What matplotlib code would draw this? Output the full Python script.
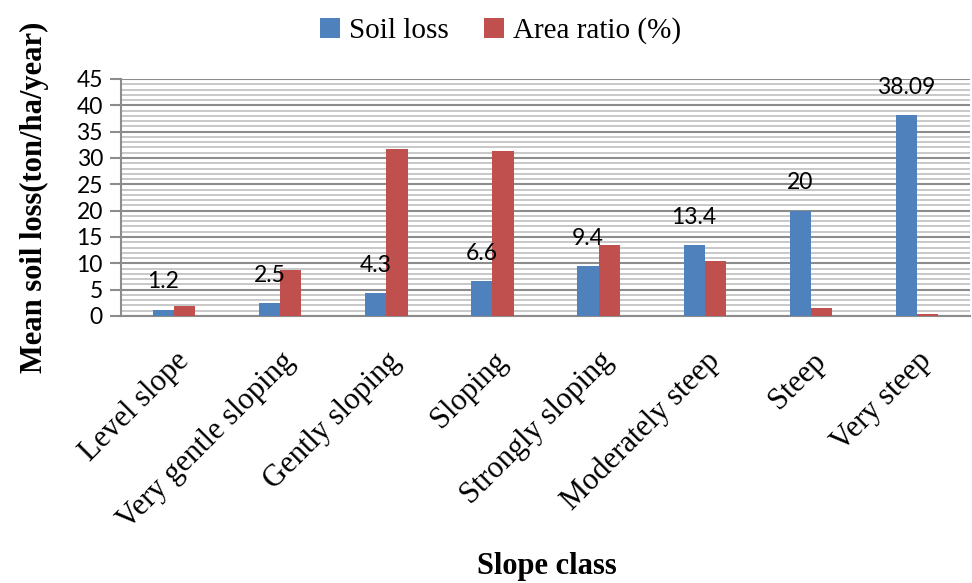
import numpy as np
import matplotlib
matplotlib.use("Agg")
import matplotlib.pyplot as plt
from matplotlib.ticker import MultipleLocator

categories = ["Level slope", "Very gentle sloping", "Gently sloping", "Sloping",
              "Strongly sloping", "Moderately steep", "Steep", "Very steep"]
soil_loss = [1.2, 2.5, 4.3, 6.6, 9.4, 13.4, 20, 38.09]
soil_loss_labels = ["1.2", "2.5", "4.3", "6.6", "9.4", "13.4", "20", "38.09"]
area_ratio = [1.9, 8.7, 31.7, 31.4, 13.5, 10.5, 1.5, 0.4]

blue = "#4F81BD"
red = "#C0504D"
serif = "Liberation Serif"
sans = "Lato"

fig = plt.figure(figsize=(9.72, 5.83), dpi=100)
ax = fig.add_axes([0.1245, 0.458, 0.8735, 0.4065])

x = np.arange(len(categories))
w = 0.2
ax.bar(x - w / 2, soil_loss, w, color=blue, label="Soil loss", zorder=3)
ax.bar(x + w / 2, area_ratio, w, color=red, label="Area ratio (%)", zorder=3)

for xi, v, t in zip(x, soil_loss, soil_loss_labels):
    ax.annotate(t, (xi - w / 2, v), xytext=(0, 20), textcoords="offset points",
                ha="center", va="center", fontsize=16.5, family=sans)

ax.set_xlim(-0.5, len(categories) - 0.5)
ax.set_ylim(0, 45)
ax.yaxis.set_major_locator(MultipleLocator(5))
ax.yaxis.set_minor_locator(MultipleLocator(1))
ax.grid(which="major", axis="y", color="#8c8c8c", linewidth=1.5, zorder=0)
ax.grid(which="minor", axis="y", color="#c4c4c4", linewidth=1.3, zorder=0)
ax.set_axisbelow(True)

for s in ["top", "right"]:
    ax.spines[s].set_visible(False)
for s in ["left", "bottom"]:
    ax.spines[s].set_color("#8c8c8c")
    ax.spines[s].set_linewidth(1.5)

ax.tick_params(axis="y", which="major", length=8, width=1.5, color="#8c8c8c",
               labelsize=16.5, pad=5)
ax.tick_params(axis="y", which="minor", length=0)
ax.tick_params(axis="x", length=0, pad=22)
for lab in ax.get_yticklabels():
    lab.set_family(sans)

ax.set_xticks(x)
ax.set_xticklabels(categories, rotation=45, ha="right", rotation_mode="anchor",
                   family=serif, fontsize=22)

ax.set_ylabel("Mean soil loss(ton/ha/year)", family=serif, fontsize=22,
              fontweight="bold", labelpad=20)
fig.text(0.563, 0.028, "Slope class", family=serif, fontsize=22,
         fontweight="bold", ha="center", va="center")

fig.legend(loc="upper center", bbox_to_anchor=(0.515, 1.015), ncol=2, frameon=False,
           prop={"family": serif, "size": 21}, handlelength=0.7, handleheight=0.7,
           handletextpad=0.3, columnspacing=1.2)

fig.savefig("out.png", dpi=100)
